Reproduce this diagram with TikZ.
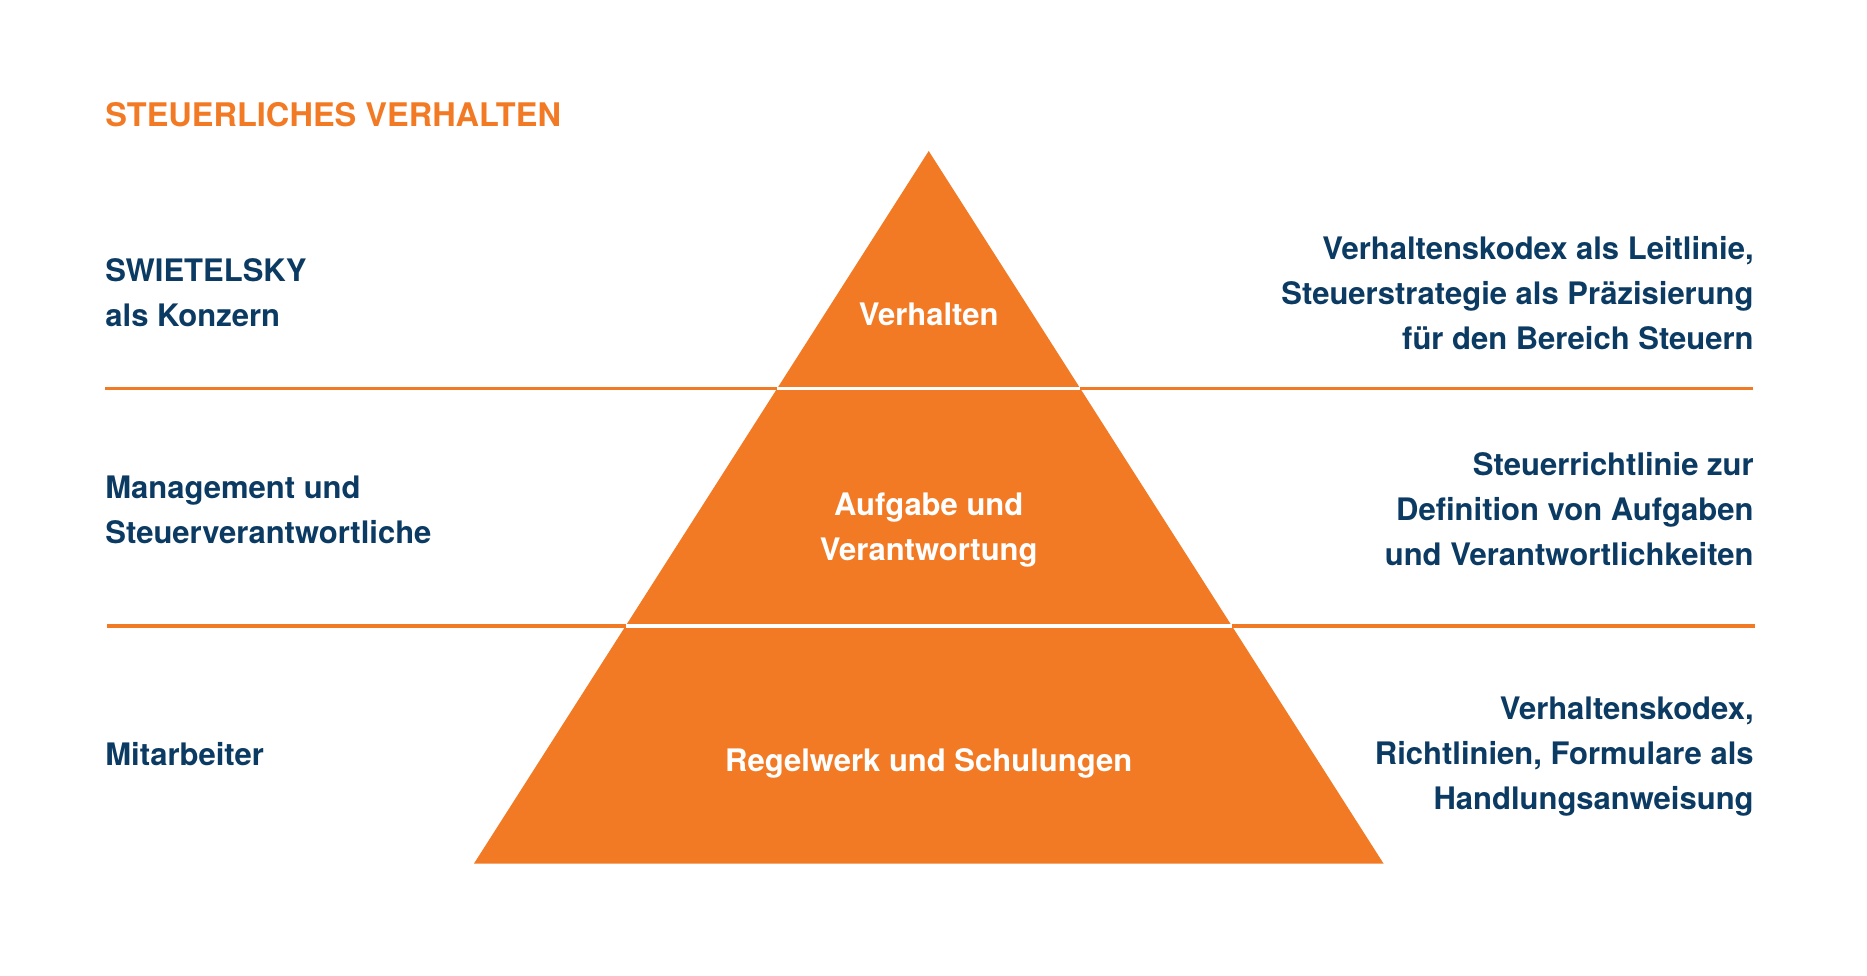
\documentclass[tikz,border=0pt]{standalone}
\usepackage{fontspec}
\setmainfont{TeX Gyre Heros}
\usetikzlibrary{calc}
\definecolor{orng}{HTML}{F27A24}
\definecolor{navy}{HTML}{0B3A62}
\begin{document}
\begin{tikzpicture}[x=0.5pt,y=-0.5pt,
  txt/.style={font=\bfseries\fontsize{15.5}{22.4}\selectfont, inner sep=0pt, text=navy},
  intxt/.style={font=\bfseries\fontsize{15.5}{22.4}\selectfont, inner sep=0pt, text=white, align=center},
  titletxt/.style={font=\bfseries\fontsize{16.25}{20}\selectfont, inner sep=0pt, text=orng},
  sepline/.style={draw=orng, line width=1.75pt},
  gapline/.style={draw=white, line width=1.6pt},
  layer/.style={fill=orng}]
\useasboundingbox (0,0) rectangle (1867,975);
% pyramid corners
\coordinate (apex) at (928.7,151);
\coordinate (bl) at (474,863.5);
\coordinate (br) at (1383.5,863.5);
\coordinate (l1a) at (105,388.5);
\coordinate (l1b) at (1753,388.5);
\coordinate (l2a) at (107,626);
\coordinate (l2b) at (1755,626);
% separator lines
\draw[sepline] (l1a) -- (l1b);
\draw[sepline] (l2a) -- (l2b);
% pyramid
\fill[layer] (apex) -- (bl) -- (br) -- cycle;
\draw[gapline] ($(apex)!1/3!(bl)$) -- ($(apex)!1/3!(br)$);
\draw[gapline] ($(apex)!2/3!(bl)$) -- ($(apex)!2/3!(br)$);
% title
\node[titletxt, anchor=base west] (title) at (105,126) {STEUERLICHES VERHALTEN};
% left labels (base anchor = last line's baseline)
\node[txt, anchor=base west, align=left] (l1) at (105,326) {SWIETELSKY\\als Konzern};
\node[txt, anchor=base west, align=left] (l2) at (105,543) {Management und\\Steuerverantwortliche};
\node[txt, anchor=base west, align=left] (l3) at (105,765) {Mitarbeiter};
% pyramid labels
\node[intxt, anchor=base] (p1) at (928.7,325) {Verhalten};
\node[intxt, anchor=base] (p2) at (928.7,560) {Aufgabe und\\Verantwortung};
\node[intxt, anchor=base] (p3) at (928.7,771) {Regelwerk und Schulungen};
% right labels
\node[txt, anchor=base east, align=right] (r1) at (1754,349) {Verhaltenskodex als Leitlinie,\\Steuerstrategie als Präzisierung\\für den Bereich Steuern};
\node[txt, anchor=base east, align=right] (r2) at (1754,565) {Steuerrichtlinie zur\\Definition von Aufgaben\\und Verantwortlichkeiten};
\node[txt, anchor=base east, align=right] (r3) at (1754,809) {Verhaltenskodex,\\Richtlinien, Formulare als\\Handlungsanweisung};
\end{tikzpicture}
\end{document}
